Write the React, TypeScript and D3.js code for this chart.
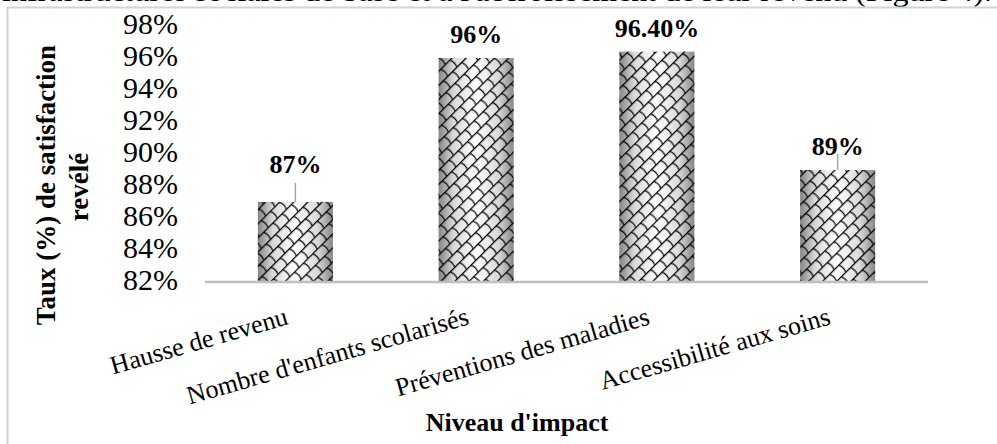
import React from "react";
import * as d3 from "d3";

// categories and values
const categories = [
  "Hausse de revenu",
  "Nombre d'enfants scolarisés",
  "Préventions des maladies",
  "Accessibilité aux soins",
];
const values = [87, 96, 96.4, 89];
const valueLabels = ["87%", "96%", "96.40%", "89%"];
const errors = [1.2, 0, 0, 1.0]; // only two bars carry an error line
const yTicks = [82, 84, 86, 88, 90, 92, 94, 96, 98];

const width = 997;
const height = 444;
const serif = "'Liberation Serif', 'Times New Roman', serif";

const App = () => {
  const y = d3.scaleLinear().domain([82, 98]).range([282, 26]);
  const x = d3
    .scaleBand<string>()
    .domain(categories)
    .range([205, 928])
    .paddingInner(0.585)
    .paddingOuter(0.2925);
  const bw = x.bandwidth();

  // label sits 15px over the bar, or over the error line when that line would run into it
  const labelY = (i: number) => {
    const base = y(values[i]) - 15;
    const errTop = y(values[i] + errors[i]);
    return base - errTop > 3 ? errTop - 10 : base;
  };

  return (
    <svg
      width={width}
      height={height}
      style={{ position: "absolute", left: 0, top: 0, display: "block", background: "#fff" }}
      fontFamily={serif}
    >
      <defs>
        <linearGradient id="barShade" x1="0" x2="1" y1="0" y2="0">
          <stop offset="0" stopColor="#858585" />
          <stop offset="0.2" stopColor="#d8d8d8" />
          <stop offset="0.5" stopColor="#ffffff" />
          <stop offset="0.8" stopColor="#d8d8d8" />
          <stop offset="1" stopColor="#858585" />
        </linearGradient>
        {/* weave hatch, drawn in a frame turned -45deg so the long strokes run "/" */}
        <pattern
          id="weave"
          patternUnits="userSpaceOnUse"
          width="13"
          height="20"
          patternTransform="rotate(-45)"
        >
          <path
            d="M0,0.6 H13 M0,10.6 H13 M2.5,0.6 Q5,5.6 2.5,10.6 M9,10.6 Q11.5,15.6 9,20.6"
            fill="none"
            stroke="#000"
            strokeWidth="1.2"
          />
        </pattern>
      </defs>

      {/* cut-off line of body text above the figure */}
      <text x={2} y={0.5} textLength={990} lengthAdjust="spacingAndGlyphs" fontSize={29} fill="#000">
        infrastructures sociales de base et à l'accroissement de leur revenu (Figure 4).
      </text>

      {/* figure frame */}
      <rect x={7.5} y={7.5} width={1000} height={450} fill="none" stroke="#d4d4d4" strokeWidth={2} />

      {/* y tick labels */}
      {yTicks.map((t) => (
        <text
          key={t}
          x={178}
          y={y(t) - 2}
          dy="0.33em"
          textAnchor="end"
          fontSize={30}
          fill="#000"
        >
          {t}%
        </text>
      ))}

      {/* bars */}
      {categories.map((c, i) => (
        <g key={c}>
          <rect x={x(c)} y={y(values[i])} width={bw} height={y(82) - y(values[i])} fill="url(#barShade)" />
          <rect x={x(c)} y={y(values[i])} width={bw} height={y(82) - y(values[i])} fill="url(#weave)" />
          {errors[i] > 0 && (
            <line
              x1={x(c)! + bw / 2}
              x2={x(c)! + bw / 2}
              y1={y(values[i])}
              y2={y(values[i] + errors[i])}
              stroke="#a6a6a6"
              strokeWidth={1.5}
            />
          )}
          <text
            x={x(c)! + bw / 2}
            y={labelY(i)}
            textAnchor="middle"
            fontSize={26}
            fontWeight="bold"
            fill="#000"
          >
            {valueLabels[i]}
          </text>
        </g>
      ))}

      {/* x axis line */}
      <line x1={205} x2={928} y1={y(82)} y2={y(82)} stroke="#bfbfbf" strokeWidth={2.6} />

      {/* category labels */}
      {categories.map((c) => (
        <text
          key={c}
          transform={`translate(${x(c)! + bw / 2 - 6},324) rotate(-16)`}
          textAnchor="end"
          fontSize={26}
          fill="#000"
        >
          {c}
        </text>
      ))}

      {/* axis titles */}
      <text x={517} y={431} textAnchor="middle" fontSize={26} fontWeight="bold" fill="#000">
        Niveau d'impact
      </text>
      <text
        transform="translate(55,185) rotate(-90)"
        textAnchor="middle"
        fontSize={27}
        fontWeight="bold"
        fill="#000"
      >
        Taux (%) de satisfaction
      </text>
      <text
        transform="translate(88,187) rotate(-90)"
        textAnchor="middle"
        fontSize={27}
        fontWeight="bold"
        fill="#000"
      >
        revélé
      </text>
    </svg>
  );
};

export default App;
